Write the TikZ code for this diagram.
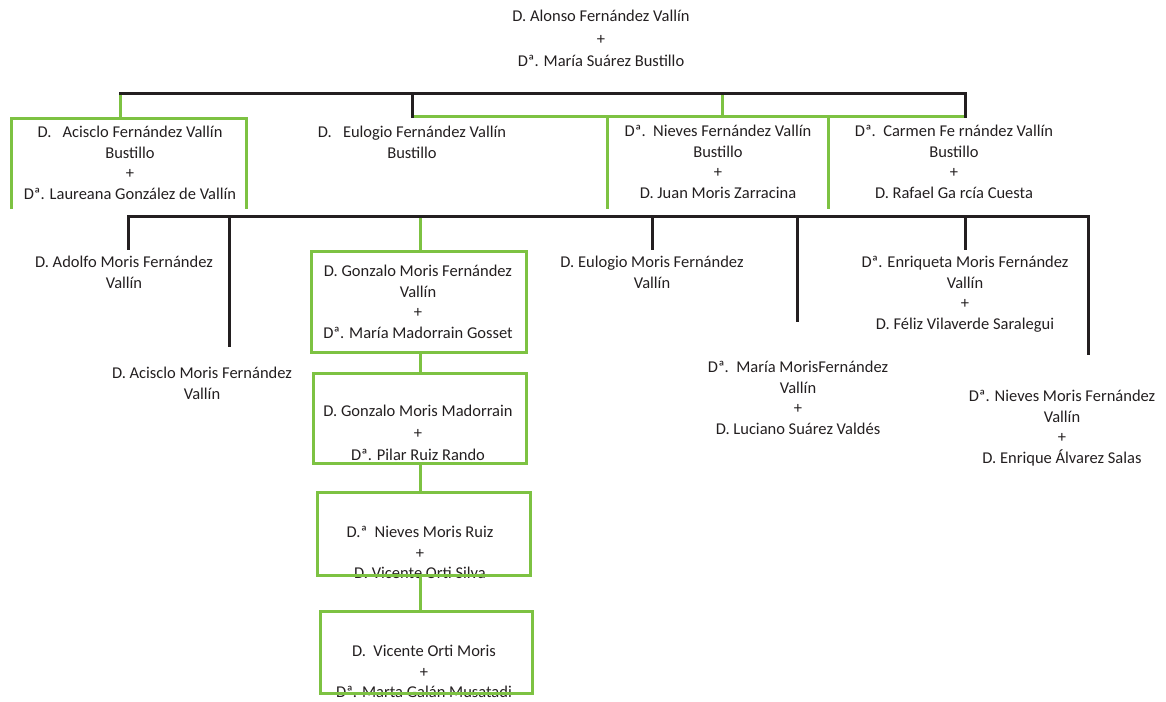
\documentclass[tikz,border=0pt]{standalone}
\usepackage{fontspec}
\setmainfont{Carlito}
\definecolor{lgreen}{RGB}{125,194,66}
\definecolor{ink}{RGB}{35,31,32}
\begin{document}
\begin{tikzpicture}[x=1pt,y=-1pt,
  txt/.style={font=\fontsize{16.5}{20.5}\selectfont, text=ink, align=center, inner sep=0pt, anchor=north},
  blk/.style={draw=ink, line width=3pt, line cap=rect},
  grn/.style={draw=lgreen, line width=3pt},
  gbox/.style={draw=lgreen, line width=3pt, inner sep=0pt, anchor=north west}]
\useasboundingbox (0,0) rectangle (1166,701);

% ---------- texts ----------
\node[txt] (top) at (601,7) {\strut D. Alonso Fernández Vallín\\[2pt] +\\[2pt] Dª. María Suárez Bustillo};
\node[txt] (acis) at (130,123) {\strut D.\ \ \ Acisclo Fernández Vallín\\ Bustillo\\ +\\ Dª. Laureana González de Vallín};
\node[txt] (eulo) at (412,123) {\strut D.\ \ \ Eulogio Fernández Vallín\\ Bustillo};
\node[txt] (niev) at (718,122) {\strut Dª.\ \ Nieves Fernández Vallín\\ Bustillo\\ +\\ D. Juan Moris Zarracina};
\node[txt] (carm) at (954,122) {\strut Dª.\ \ Carmen Fe rnández Vallín\\ Bustillo\\ +\\ D. Rafael Ga rcía Cuesta};

\node[txt] (adol) at (124,253) {\strut D. Adolfo Moris Fernández\\ Vallín};
\node[txt] (acism) at (202,364) {\strut D. Acisclo Moris Fernández\\ Vallín};
\node[txt] (gonz) at (418,262) {\strut D. Gonzalo Moris Fernández\\ Vallín\\ +\\ Dª. María Madorrain Gosset};
\node[txt] (gmm) at (418,402) {\strut D. Gonzalo Moris Madorrain\\[1.5pt] +\\[1.5pt] Dª. Pilar Ruiz Rando};
\node[txt] (nmr) at (420,523) {\strut D.ª\ \ Nieves Moris Ruiz\\ +\\ D. Vicente Orti Silva};
\node[txt] (vom) at (424,642) {\strut D.\ \ Vicente Orti Moris\\ +\\ Dª. Marta Galán Musatadi};
\node[txt] (eum) at (652,253) {\strut D. Eulogio Moris Fernández\\ Vallín};
\node[txt] (enr) at (965,253) {\strut Dª. Enriqueta Moris Fernández\\ Vallín\\ +\\ D. Féliz Vilaverde Saralegui};
\node[txt] (mar) at (798,358) {\strut Dª.\ \ María MorisFernández\\ Vallín\\ +\\ D. Luciano Suárez Valdés};
\node[txt] (nmf) at (1062,387) {\strut Dª. Nieves Moris Fernández\\ Vallín\\ +\\ D. Enrique Álvarez Salas};

% ---------- boxes ----------
\node[gbox, minimum width=215pt, minimum height=101pt] (b1) at (310,250) {};
\node[gbox, minimum width=213pt, minimum height=90pt] (b2) at (312,372) {};
\node[gbox, minimum width=213pt, minimum height=83pt] (b3) at (316,491) {};
\node[gbox, minimum width=212pt, minimum height=82pt] (b4) at (319,610) {};

% ---------- level 1 connectors ----------
\coordinate (t1) at (120,93);
\coordinate (t2) at (412,93);
\coordinate (t3) at (722,93);
\coordinate (t4) at (965,93);
\coordinate (m2) at (412,116);
\coordinate (m3) at (722,116);
\coordinate (m4) at (965,116);
\coordinate (a1) at (11,209);
\coordinate (a2) at (11,118);
\coordinate (a3) at (246,118);
\coordinate (a4) at (246,209);
\coordinate (n1) at (607,116);
\coordinate (n2) at (607,209);
\coordinate (n3) at (828,116);
\coordinate (n4) at (828,209);

\draw[grn] (t1) -- (t1 |- a2);
\draw[grn] (a1) -- (a2) -- (a3) -- (a4);
\draw[grn] (m2) -- (m4);
\draw[grn] (t3) -- (m3);
\draw[grn] (n1) -- (n2);
\draw[grn] (n3) -- (n4);
\draw[blk] (t1) -- (t4);
\draw[blk] (t2) -- (m2);
\draw[blk] (t4) -- (m4);

% ---------- level 2 connectors ----------
\coordinate (h1) at (128,216);
\coordinate (h2) at (229,216);
\coordinate (h3) at (420,216);
\coordinate (h4) at (652,216);
\coordinate (h5) at (797,216);
\coordinate (h6) at (965,216);
\coordinate (h7) at (1088,216);
\coordinate (e1) at (128,248);
\coordinate (e2) at (229,345);
\coordinate (e4) at (652,248);
\coordinate (e5) at (797,320);
\coordinate (e6) at (965,248);
\coordinate (e7) at (1088,353);

\draw[grn] (h3) -- (h3 |- b1.north);
\draw[blk] (h1) -- (h7);
\draw[blk] (h1) -- (e1);
\draw[blk] (h2) -- (e2);
\draw[blk] (h4) -- (e4);
\draw[blk] (h5) -- (e5);
\draw[blk] (h6) -- (e6);
\draw[blk] (h7) -- (e7);

% ---------- descendant chain ----------
\draw[grn] (h3 |- b1.south) -- (h3 |- b2.north);
\draw[grn] (b2.south) -- (b2.south |- b3.north);
\draw[grn] (h3 |- b3.south) -- (h3 |- b4.north);
\end{tikzpicture}
\end{document}
